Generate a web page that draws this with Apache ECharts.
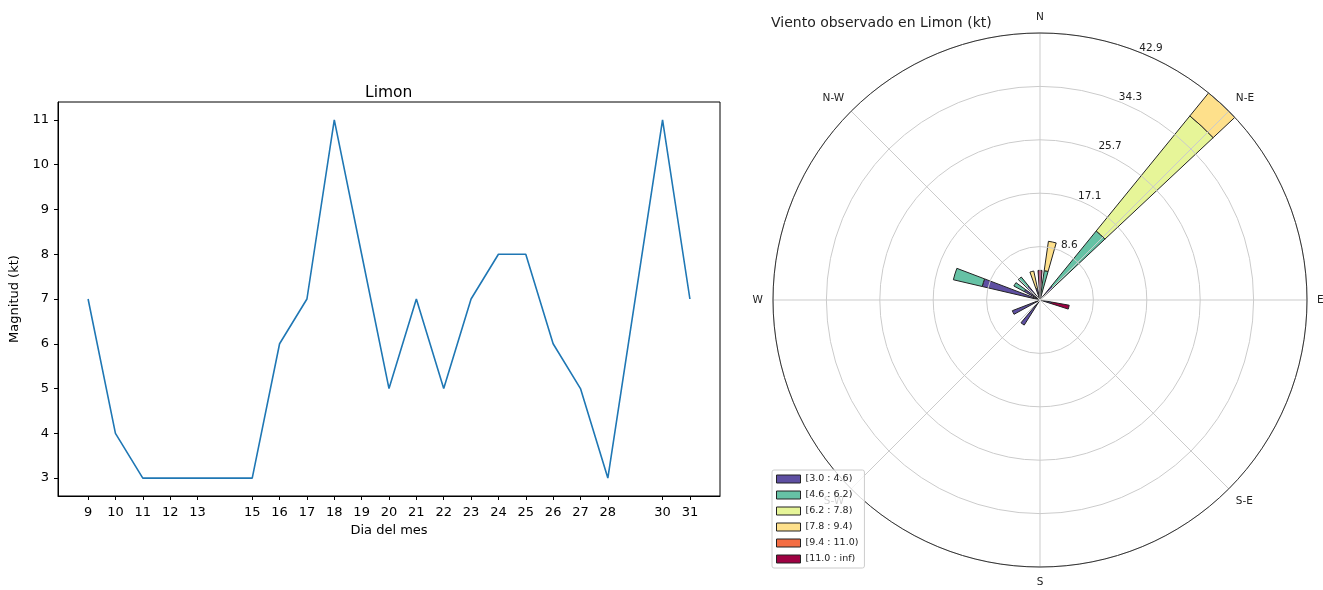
<!DOCTYPE html>
<html>
<head>
<meta charset="utf-8">
<script src="https://cdn.jsdelivr.net/npm/echarts@6/dist/echarts.min.js"></script>
<style>
  html, body { margin: 0; padding: 0; background: #fff; }
  #chart { width: 1323px; height: 590px; }
</style>
</head>
<body>
<div id="chart"></div>
<script>
// Daily wind magnitude at Limon (kt)
const days   = [9, 10, 11, 12, 13, 15, 16, 17, 18, 19, 20, 21, 22, 23, 24, 25, 26, 27, 28, 30, 31];
const speeds = [7, 4, 3, 3, 3, 3, 6, 7, 11, 8, 5, 7, 5, 7, 8, 8, 6, 5, 3, 11, 7];
const speedTicks = [3, 4, 5, 6, 7, 8, 9, 10, 11];

// Wind rose: direction of each petal (degrees from north, clockwise)
const directions = [0, 12, 43, 104, 216, 245, 287, 302, 317, 344];
// Frequency (%) per speed bin for each direction
const bin0 = [1.90, 0.95, 2.86, 1.90, 4.76, 4.76, 9.52, 2.86, 2.86, 1.90];
const bin1 = [0, 3.81, 11.43, 0, 0, 0, 4.76, 1.90, 1.90, 0];
const bin2 = [0, 0, 23.81, 0, 0, 0, 0, 0, 0, 0];
const bin3 = [0, 4.76, 4.76, 0, 0, 0, 0, 0, 0, 2.86];
const bin4 = [0, 0, 0, 0, 0, 0, 0, 0, 0, 0];
const bin5 = [2.86, 0, 0, 2.86, 0, 0, 0, 0, 0, 0];
const binLabels = ['[3.0 : 4.6)', '[4.6 : 6.2)', '[6.2 : 7.8)', '[7.8 : 9.4)', '[9.4 : 11.0)', '[11.0 : inf)'];
const compass = ['N', 'N-E', 'E', 'S-E', 'S', 'S-W', 'W', 'N-W'];
const RMAX = 300 / 7;           // outer ring value (42.9 %)

const binColors = ['#5e4fa2', '#66c2a5', '#e6f598', '#fee08b', '#f46d43', '#9e0142'];
const bins = [bin0, bin1, bin2, bin3, bin4, bin5];

const FONT = 'DejaVu Sans';
const ROSE_C = [1040, 300];
const ROSE_R = 267;
const pxPerUnit = ROSE_R / RMAX;
// ring labels sit a little outside their ring along the label spoke
const lblShift = 8.5 / pxPerUnit;
const LBL_R = 300;
const lblMin = -lblShift;
const lblMax = lblMin + LBL_R / pxPerUnit;

const chart = echarts.init(document.getElementById('chart'), null, { renderer: 'canvas' });

const roseSeries = bins.map((vals, b) => ({
  name: binLabels[b],
  type: 'bar',
  coordinateSystem: 'polar',
  polarIndex: 0,
  stack: 'rose',
  barWidth: 7.7,
  silent: true,
  itemStyle: { color: binColors[b], borderColor: '#222', borderWidth: 1 },
  data: directions.map((d, i) => [vals[i], d]).filter(p => p[0] > 0)
}));

const option = {
  animation: false,
  textStyle: { fontFamily: FONT },
  title: [
    { text: 'Limon', left: 360, top: 80,
      textStyle: { fontFamily: FONT, fontSize: 15.5, fontWeight: 'normal', color: '#000' } },
    { text: 'Viento observado en Limon (kt)', left: 766, top: 11,
      textStyle: { fontFamily: FONT, fontSize: 14, fontWeight: 'normal', color: '#222' } }
  ],
  grid: {
    left: 58, right: 603, top: 102, bottom: 94,
    outerBoundsMode: 'none', containLabel: false,
    show: true, borderColor: '#000', borderWidth: 1, backgroundColor: 'transparent'
  },
  xAxis: {
    type: 'value', min: 7.9, max: 32.1,
    name: 'Dia del mes', nameLocation: 'middle', nameGap: 23,
    nameTextStyle: { fontFamily: FONT, fontSize: 13, color: '#000' },
    axisLine: { show: true, lineStyle: { color: '#000', width: 1 } },
    axisTick: { show: true, customValues: days, length: 4, lineStyle: { color: '#000' } },
    axisLabel: { customValues: days, fontFamily: FONT, fontSize: 13, color: '#000', margin: 10 },
    splitLine: { show: false }
  },
  yAxis: {
    type: 'value', min: 2.6, max: 11.4,
    name: 'Magnitud (kt)', nameLocation: 'middle', nameGap: 29, nameRotate: 90,
    nameTextStyle: { fontFamily: FONT, fontSize: 13, color: '#000' },
    axisLine: { show: true, lineStyle: { color: '#000', width: 1 } },
    axisTick: { show: true, customValues: speedTicks, length: 4, lineStyle: { color: '#000' } },
    axisLabel: { customValues: speedTicks, fontFamily: FONT, fontSize: 13, color: '#000', margin: 9 },
    splitLine: { show: false }
  },
  polar: [
    { center: ROSE_C, radius: ROSE_R },
    { center: ROSE_C, radius: ROSE_R },
    { center: ROSE_C, radius: LBL_R }
  ],
  angleAxis: [
    { polarIndex: 0, type: 'value', min: 0, max: 360, startAngle: 90, clockwise: true,
      axisLine: { show: false }, axisTick: { show: false }, axisLabel: { show: false },
      splitLine: { show: false } },
    { polarIndex: 1, type: 'value', min: 0, max: 360, interval: 45, startAngle: 90,
      clockwise: true, z: 3,
      axisLine: { show: true, lineStyle: { color: '#333', width: 1 } },
      axisTick: { show: false },
      axisLabel: { show: true, fontFamily: FONT, fontSize: 10.5, color: '#222', margin: 10,
                   formatter: v => (v < 360 ? compass[Math.round(v / 45)] : '') },
      splitLine: { show: true, lineStyle: { color: '#cbcbcb', width: 1 } } },
    { polarIndex: 2, type: 'value', min: 0, max: 360, startAngle: 67.5,
      axisLine: { show: false }, axisTick: { show: false }, axisLabel: { show: false },
      splitLine: { show: false } }
  ],
  radiusAxis: [
    { polarIndex: 0, type: 'value', min: 0, max: RMAX,
      axisLine: { show: false }, axisTick: { show: false }, axisLabel: { show: false },
      splitLine: { show: false } },
    { polarIndex: 1, type: 'value', min: 0, max: RMAX, interval: RMAX / 5, z: 3,
      axisLine: { show: false }, axisTick: { show: false }, axisLabel: { show: false },
      splitLine: { show: true, lineStyle: { color: '#cbcbcb', width: 1 } } },
    { polarIndex: 2, type: 'value', min: lblMin, max: lblMax, z: 4,
      axisLine: { show: false }, axisTick: { show: false },
      axisLabel: {
        show: true, margin: -6, align: 'center', verticalAlign: 'middle',
        fontFamily: FONT, fontSize: 10.5, color: '#222',
        customValues: [1, 2, 3, 4, 5].map(k => k * RMAX / 5),
        formatter: v => v.toFixed(1)
      },
      splitLine: { show: false } }
  ],
  legend: {
    orient: 'vertical', left: 772, top: 470,
    data: binLabels,
    icon: 'rect', itemWidth: 24, itemHeight: 8, itemGap: 6,
    padding: [4, 6, 4, 4],
    backgroundColor: 'rgba(255,255,255,0.8)', borderColor: '#cccccc', borderWidth: 1,
    borderRadius: 2,
    itemStyle: { borderColor: '#222', borderWidth: 1 },
    textStyle: { fontFamily: FONT, fontSize: 9.5, color: '#222' },
    selectedMode: false
  },
  series: [
    {
      type: 'line', xAxisIndex: 0, yAxisIndex: 0,
      data: days.map((d, i) => [d, speeds[i]]),
      showSymbol: false, symbol: 'none',
      lineStyle: { color: '#1f77b4', width: 1.6 },
      itemStyle: { color: '#1f77b4' }
    },
    ...roseSeries
  ]
};

chart.setOption(option);
</script>
</body>
</html>
